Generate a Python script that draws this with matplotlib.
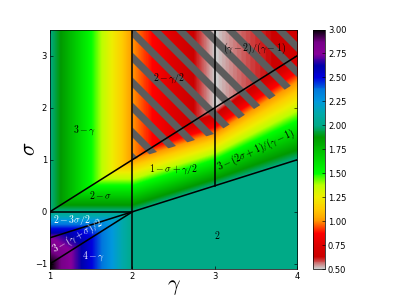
import numpy as np
import matplotlib
matplotlib.use('Agg')
import matplotlib.pyplot as plt

# phase boundaries, endpoints in (gamma, sigma)
line_gamma = [[1, 4], [1, 2], [2, 2], [3, 3], [1, 4], [1, 2]]
line_sigma = [[0, 3], [0, 0], [-1.1, 3.5], [0.5, 3.5], [-0.5, 1], [-1, 0]]

# region labels
labels = [r'$3-\gamma$', r'$2-\gamma/2$', r'$(\gamma-2)/(\gamma-1)$', r'$2-\sigma$',
          r'$1-\sigma+\gamma/2$', r'$3-(2\sigma+1)/(\gamma-1)$', r'$2-3\sigma/2$',
          r'$3-(\gamma+\sigma)/2$', r'$4-\gamma$', r'$2$']
label_gamma = [1.425, 2.44, 3.485, 1.62, 2.495, 3.50, 1.27, 1.33, 1.526, 3.03]
label_sigma = [1.57, 2.56, 3.14, 0.32, 0.81, 1.19, -0.15, -0.48, -0.86, -0.44]
label_rot = [0, 0, 0, 0, 0, 25, 0, 30, 0, 0]
label_color = ['k', 'k', 'k', 'k', 'k', 'k', 'w', 'w', 'w', 'k']

cbar_ticks = [0.5, 0.75, 1.0, 1.25, 1.5, 1.75, 2.0, 2.25, 2.5, 2.75, 3.0]

plt.rcParams['mathtext.fontset'] = 'cm'
plt.rcParams['hatch.color'] = '0.36'
plt.rcParams['hatch.linewidth'] = 3.4

# exponent field from the formulas of each region
g, s = np.meshgrid(np.linspace(1, 4, 500), np.linspace(-1.1, 3.5, 500))
with np.errstate(divide='ignore', invalid='ignore'):
    z = np.select(
        [(g < 2) & (s >= g - 1), (g < 2) & (s >= 0), (g < 2) & (s >= (g - 2) / 2),
         (g < 2) & (s >= g - 2), g < 2,
         (g < 3) & (s >= g - 1), (g < 3) & (s >= (g - 2) / 2),
         s >= g - 1, s >= (g - 2) / 2],
        [3 - g, 2 - s, 2 - 1.5 * s, 3 - (g + s) / 2, 4 - g,
         2 - g / 2, 1 - s + g / 2,
         (g - 2) / (g - 1), 3 - (2 * s + 1) / (g - 1)],
        default=2.0)

fig = plt.figure(figsize=(399 / 150, 299 / 150), dpi=150)
ax = fig.add_axes([0.1253, 0.1003, 0.6203, 0.801])
cax = fig.add_axes([0.7837, 0.1003, 0.0308, 0.801])

im = ax.imshow(z, extent=[1, 4, -1.1, 3.5], origin='lower', aspect='auto',
               cmap='nipy_spectral_r', vmin=0.5, vmax=3.0, interpolation='bilinear')
ax.contourf(g, s, z, levels=[0, 1], colors='none', hatches=['\\\\'])

for lg, ls in zip(line_gamma, line_sigma):
    ax.plot(lg, ls, color='k', lw=0.75)

for t, x, y, r, c in zip(labels, label_gamma, label_sigma, label_rot, label_color):
    ax.text(x, y, t, color=c, rotation=r, fontsize=4.7, ha='center', va='center')

ax.set_xlim(1, 4)
ax.set_ylim(-1.1, 3.5)
ax.set_xticks([1, 2, 3, 4])
ax.set_yticks([-1, 0, 1, 2, 3])
ax.tick_params(direction='in', length=1.4, width=0.3, labelsize=4, pad=1.4,
               top=True, right=True)
for sp in ax.spines.values():
    sp.set_linewidth(0.35)
ax.set_xlabel(r'$\gamma$', fontsize=10.5)
ax.set_ylabel(r'$\sigma$', fontsize=10.5)
ax.xaxis.set_label_coords(0.5, -0.035)
ax.yaxis.set_label_coords(-0.045, 0.5)

cb = fig.colorbar(im, cax=cax, ticks=cbar_ticks)
cb.ax.tick_params(direction='in', length=1.4, width=0.3, labelsize=4, pad=1.4)
cb.outline.set_linewidth(0.35)

fig.savefig('out.png', dpi=150)
